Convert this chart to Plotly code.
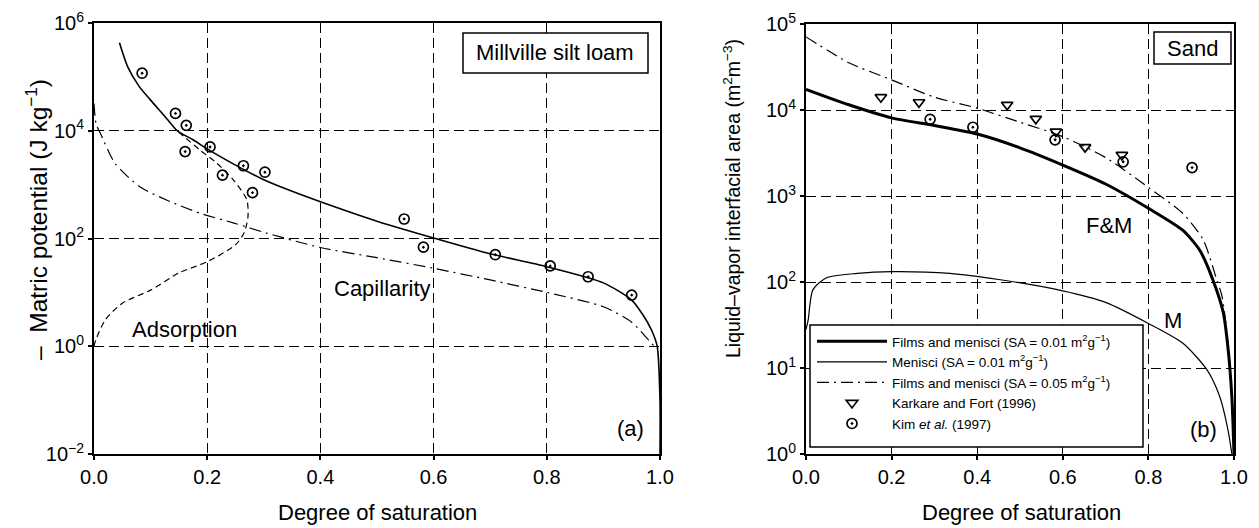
import plotly.graph_objects as go

W, H = 1259, 528

# ---------------- Panel (a): Millville silt loam ----------------
sat_total = [0.045, 0.06, 0.08, 0.10, 0.125, 0.147, 0.175, 0.20, 0.25, 0.30, 0.35, 0.40, 0.50, 0.60, 0.70, 0.80, 0.90, 0.95, 0.97, 0.985, 0.995, 1.0, 1.0]
psi_total = [430000, 150000, 66000, 37000, 18600, 10000, 6800, 4600, 2300, 1230, 750, 480, 209, 102, 52, 30, 15, 7.2, 3.8, 2.0, 1.0, 0.1, 0.01]

sat_ads = [0.0, 0.003, 0.02, 0.05, 0.10, 0.15, 0.20, 0.25, 0.265, 0.272, 0.27, 0.246, 0.217, 0.187, 0.147]
psi_ads = [1.0, 1.3, 3.1, 6.3, 11, 23, 37, 76, 126, 250, 525, 1230, 2500, 4400, 10000]

sat_cap = [0.0, 0.004, 0.011, 0.037, 0.081, 0.128, 0.187, 0.246, 0.305, 0.40, 0.50, 0.60, 0.70, 0.80, 0.90, 0.95, 0.98, 0.99]
psi_cap = [32000, 13000, 9100, 2500, 910, 520, 295, 195, 126, 68, 44, 28, 17, 10, 5.4, 2.8, 1.3, 1.0]

sat_obs_a = [0.085, 0.144, 0.163, 0.161, 0.205, 0.227, 0.264, 0.302, 0.28, 0.548, 0.582, 0.709, 0.806, 0.873, 0.95]
psi_obs_a = [117000, 21000, 12600, 4100, 5000, 1500, 2240, 1700, 710, 230, 69, 50, 31, 19.5, 8.9]

# ---------------- Panel (b): Sand ----------------
sat_fm1 = [0.0, 0.10, 0.20, 0.30, 0.40, 0.50, 0.60, 0.70, 0.80, 0.88, 0.92, 0.951, 0.975, 0.986, 0.995, 1.0]
area_fm1 = [17400, 11500, 8100, 6600, 5250, 3630, 2290, 1380, 720, 400, 234, 105, 44, 17, 4.6, 1.0]

sat_m = [0.0, 0.005, 0.016, 0.048, 0.12, 0.20, 0.336, 0.45, 0.60, 0.70, 0.80, 0.88, 0.937, 0.967, 0.986, 0.995]
area_m = [28, 36, 81, 112, 126, 132, 126, 107, 79, 58, 33, 19.5, 9.5, 4.6, 1.9, 1.0]

sat_fm5 = [0.0, 0.10, 0.20, 0.30, 0.40, 0.50, 0.60, 0.70, 0.80, 0.88, 0.928, 0.96, 0.972, 0.99, 1.0]
area_fm5 = [70800, 35500, 22400, 14100, 10500, 7200, 4900, 2800, 1260, 630, 310, 105, 68, 12, 1.0]

sat_karkare = [0.175, 0.264, 0.47, 0.537, 0.584, 0.652, 0.738]
area_karkare = [14100, 12300, 11500, 7900, 5600, 3700, 3000]

sat_kim = [0.29, 0.39, 0.582, 0.741, 0.902]
area_kim = [7800, 6300, 4500, 2500, 2140]

x_ticks = [0.0, 0.2, 0.4, 0.6, 0.8, 1.0]
ya_ticks = [0.01, 1, 100, 1e4, 1e6]
ya_text = ["10<sup>−2</sup>", "10<sup>0</sup>", "10<sup>2</sup>", "10<sup>4</sup>", "10<sup>6</sup>"]
yb_ticks = [1, 10, 100, 1e3, 1e4, 1e5]
yb_text = ["10<sup>0</sup>", "10<sup>1</sup>", "10<sup>2</sup>", "10<sup>3</sup>", "10<sup>4</sup>", "10<sup>5</sup>"]

FONT = "Liberation Sans, Arial, sans-serif"
BLK = "black"
SM = 0.7

fig = go.Figure()

# panel a traces
fig.add_trace(go.Scatter(x=sat_total, y=psi_total, mode="lines",
                         line=dict(color=BLK, width=1.6, shape="spline", smoothing=SM),
                         xaxis="x", yaxis="y", showlegend=False))
fig.add_trace(go.Scatter(x=sat_ads, y=psi_ads, mode="lines",
                         line=dict(color=BLK, width=1.2, dash="6px,4px", shape="spline", smoothing=SM),
                         xaxis="x", yaxis="y", showlegend=False))
fig.add_trace(go.Scatter(x=sat_cap, y=psi_cap, mode="lines",
                         line=dict(color=BLK, width=1.2, dash="12px,5px,2px,5px", shape="spline", smoothing=SM),
                         xaxis="x", yaxis="y", showlegend=False))
fig.add_trace(go.Scatter(x=sat_obs_a, y=psi_obs_a, mode="markers",
                         marker=dict(symbol="circle-open-dot", size=10, color=BLK, line=dict(width=1.7)),
                         xaxis="x", yaxis="y", showlegend=False))

# panel b traces
fig.add_trace(go.Scatter(x=sat_fm1, y=area_fm1, mode="lines",
                         line=dict(color=BLK, width=3, shape="spline", smoothing=SM),
                         xaxis="x2", yaxis="y2",
                         name="Films and menisci (SA = 0.01 m<sup>2</sup>g<sup>−1</sup>)"))
fig.add_trace(go.Scatter(x=sat_m, y=area_m, mode="lines",
                         line=dict(color=BLK, width=1.2, shape="spline", smoothing=SM),
                         xaxis="x2", yaxis="y2",
                         name="Menisci (SA = 0.01 m<sup>2</sup>g<sup>−1</sup>)"))
fig.add_trace(go.Scatter(x=sat_fm5, y=area_fm5, mode="lines",
                         line=dict(color=BLK, width=1.2, dash="12px,5px,2px,5px", shape="spline", smoothing=SM),
                         xaxis="x2", yaxis="y2",
                         name="Films and menisci (SA = 0.05 m<sup>2</sup>g<sup>−1</sup>)"))
fig.add_trace(go.Scatter(x=sat_karkare, y=area_karkare, mode="markers",
                         marker=dict(symbol="triangle-down-open", size=10, color=BLK, line=dict(width=1.7)),
                         xaxis="x2", yaxis="y2", name="Karkare and Fort (1996)"))
fig.add_trace(go.Scatter(x=sat_kim, y=area_kim, mode="markers",
                         marker=dict(symbol="circle-open-dot", size=10, color=BLK, line=dict(width=1.7)),
                         xaxis="x2", yaxis="y2", name="Kim <i>et al.</i> (1997)"))

ydom_a = [1 - 454 / H, 1 - 23 / H]
ydom_b = [1 - 454 / H, 1 - 24 / H]

common_x = dict(range=[0, 1], tickvals=x_ticks, tickformat=".1f", showgrid=True, gridcolor=BLK,
                griddash="10px,5px", gridwidth=1, showline=True, linecolor=BLK, linewidth=2, mirror=True,
                ticks="outside", ticklen=4, tickcolor=BLK, tickwidth=1.5, zeroline=False,
                tickfont=dict(size=20, color=BLK, family=FONT), automargin=False)
common_y = dict(type="log", showgrid=True, gridcolor=BLK, griddash="10px,5px", gridwidth=1,
                showline=True, linecolor=BLK, linewidth=2, mirror=True, ticks="outside", ticklen=4,
                tickcolor=BLK, tickwidth=1.5, zeroline=False,
                tickfont=dict(size=20, color=BLK, family=FONT), automargin=False)

fig.update_layout(
    width=W, height=H,
    margin=dict(l=0, r=0, t=0, b=0),
    paper_bgcolor="white", plot_bgcolor="white",
    font=dict(family=FONT, color=BLK),
    xaxis=dict(domain=[94 / W, 660 / W], anchor="y", **common_x),
    yaxis=dict(domain=ydom_a, anchor="x", range=[-2, 6], tickvals=ya_ticks, ticktext=ya_text, **common_y),
    xaxis2=dict(domain=[806 / W, 1234 / W], anchor="y2", **common_x),
    yaxis2=dict(domain=ydom_b, anchor="x2", range=[0, 5], tickvals=yb_ticks, ticktext=yb_text, **common_y),
    legend=dict(x=812 / W, y=1 - 326 / H, xanchor="left", yanchor="top", bgcolor="rgba(0,0,0,0)",
                borderwidth=0, font=dict(size=13.5, color=BLK, family=FONT),
                itemwidth=70, tracegroupgap=0),
)

ann = []
def add_text(x, y, text, size=22, angle=0, **kw):
    ann.append(dict(x=x / W, y=1 - y / H, xref="paper", yref="paper", text=text, showarrow=False,
                    font=dict(size=size, color=BLK, family=FONT), textangle=angle,
                    xanchor="center", yanchor="middle", **kw))

add_text(36, 220, "–  Matric potential (J kg<sup>−1</sup>)", size=24.5, angle=-90)
add_text(732, 199, "Liquid–vapor interfacial area (m<sup>2</sup>m<sup>−3</sup>)", size=19.5, angle=-90)
add_text(377, 512, "Degree of saturation", size=22)
add_text(1021, 512, "Degree of saturation", size=22)
add_text(555, 53, "Millville silt loam", size=22)
add_text(1192, 48, "Sand", size=22)
add_text(382, 288, "Capillarity", size=22)
add_text(184, 329, "Adsorption", size=22)
add_text(630, 428, "(a)", size=22)
add_text(1203, 429, "(b)", size=22)
add_text(1109, 226, "F&amp;M", size=22)
add_text(1173, 320, "M", size=22)
fig.update_layout(annotations=ann)

shapes = [
    dict(type="rect", xref="paper", yref="paper", x0=463 / W, x1=648 / W, y0=1 - 73 / H, y1=1 - 33 / H,
         line=dict(color=BLK, width=1.5), fillcolor="white", layer="above"),
    dict(type="rect", xref="paper", yref="paper", x0=1154 / W, x1=1231 / W, y0=1 - 64 / H, y1=1 - 32 / H,
         line=dict(color=BLK, width=1.5), fillcolor="rgba(0,0,0,0)", layer="above"),
    dict(type="rect", xref="paper", yref="paper", x0=810 / W, x1=1143 / W, y0=1 - 447 / H, y1=1 - 325 / H,
         line=dict(color=BLK, width=1.5), fillcolor="white", layer="above"),
]
fig.update_layout(shapes=shapes)

fig.write_html("out.html", config={"displayModeBar": False},
               post_script="document.body.style.margin='0';")
